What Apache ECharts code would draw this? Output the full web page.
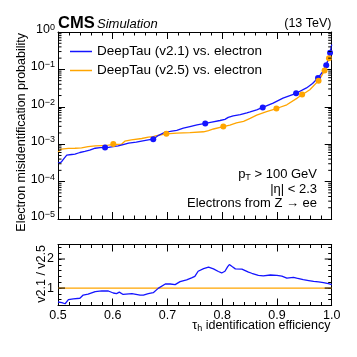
<!DOCTYPE html>
<html><head><meta charset="utf-8">
<script src="https://cdn.jsdelivr.net/npm/echarts@6/dist/echarts.min.js"></script>
<style>html,body{margin:0;padding:0;background:#fff}#c{width:357px;height:357px}</style>
</head><body><div id="c"></div>
<script>
// ---- data ----
const effV21 = [0.500,0.506,0.509,0.516,0.525,0.531,0.540,0.549,0.558,0.568,0.577,0.592,0.601,0.610,0.619,0.629,0.643,0.655,0.665,0.674,0.683,0.696,0.705,0.717,0.729,0.741,0.754,0.769,0.781,0.796,0.805,0.811,0.820,0.833,0.845,0.851,0.863,0.874,0.893,0.911,0.935,0.954,0.965,0.975,0.983,0.990,0.995,0.997,1.000];
const misV21 = [3.1e-4,3.3e-4,3.8e-4,5.1e-4,5.3e-4,5.4e-4,6.0e-4,6.4e-4,6.9e-4,7.8e-4,8.1e-4,8.2e-4,8.6e-4,9.0e-4,9.8e-4,1.07e-3,1.13e-3,1.23e-3,1.31e-3,1.36e-3,1.7e-3,2.12e-3,2.2e-3,2.35e-3,2.69e-3,2.97e-3,3.3e-3,3.6e-3,3.9e-3,4.3e-3,4.6e-3,5.2e-3,5.7e-3,6.2e-3,6.9e-3,7.3e-3,8.3e-3,9.6e-3,1.26e-2,1.71e-2,2.3e-2,3.2e-2,4.2e-2,5.9e-2,8.5e-2,0.13,0.22,0.28,0.46];
const effV25 = [0.500,0.503,0.506,0.519,0.531,0.543,0.555,0.568,0.580,0.592,0.601,0.616,0.622,0.634,0.653,0.665,0.674,0.680,0.698,0.717,0.741,0.766,0.775,0.784,0.802,0.814,0.826,0.839,0.851,0.863,0.881,0.899,0.918,0.937,0.946,0.960,0.976,0.981,0.987,0.995,0.998,1.000];
const misV25 = [6.2e-4,6.8e-4,7.4e-4,7.7e-4,7.8e-4,8.0e-4,8.6e-4,9.0e-4,9.2e-4,9.4e-4,9.8e-4,1.0e-3,1.2e-3,1.31e-3,1.42e-3,1.55e-3,1.6e-3,1.7e-3,1.88e-3,1.98e-3,2.05e-3,2.15e-3,2.32e-3,2.55e-3,2.95e-3,3.24e-3,3.7e-3,4.1e-3,4.9e-3,6.0e-3,7.4e-3,9.0e-3,1.13e-2,1.71e-2,2.1e-2,2.85e-2,5.0e-2,6.5e-2,9.4e-2,0.2,0.28,0.33];
const wpEffV21 = [0.586,0.674,0.769,0.874,0.935,0.975,0.990,0.997];
const wpMisV21 = [8.1e-4,1.36e-3,3.6e-3,9.6e-3,2.3e-2,5.9e-2,0.13,0.28];
const wpEffV25 = [0.601,0.698,0.802,0.899,0.946,0.976,0.987,0.995];
const wpMisV25 = [1.02e-3,1.89e-3,2.97e-3,9.0e-3,2.14e-2,4.97e-2,9.4e-2,0.2];
const ratioEff = [0.500,0.507,0.513,0.519,0.528,0.540,0.546,0.555,0.568,0.580,0.592,0.601,0.607,0.612,0.619,0.635,0.650,0.656,0.665,0.674,0.683,0.696,0.705,0.714,0.723,0.735,0.744,0.750,0.756,0.766,0.775,0.784,0.793,0.799,0.805,0.810,0.813,0.818,0.824,0.836,0.848,0.854,0.866,0.875,0.888,0.900,0.909,0.918,0.930,0.936,0.948,0.958,0.967,0.976,0.985,0.994,1.000];
const ratioVal = [0.52,0.50,0.46,0.60,0.63,0.65,0.76,0.79,0.88,0.90,0.90,0.83,0.81,0.86,0.78,0.81,0.76,0.76,0.81,0.84,0.99,1.14,1.14,1.12,1.22,1.28,1.35,1.40,1.58,1.67,1.72,1.66,1.57,1.52,1.58,1.74,1.81,1.74,1.66,1.65,1.55,1.51,1.44,1.42,1.45,1.44,1.41,1.34,1.37,1.34,1.29,1.26,1.23,1.21,1.19,1.15,1.12];
const refEff = [0.5, 1.0];
const refVal = [1, 1];
const seriesNames = ['DeepTau (v2.1) vs. electron', 'DeepTau (v2.5) vs. electron'];
const effMin = 0.5, effMax = 1.0;
const misMin = 1e-5, misMax = 1;
const ratioMin = 0.4, ratioMax = 2.5;
const logMinorTicks = [];
for (let d = -5; d < 0; d++) for (let k = 2; k <= 9; k++) logMinorTicks.push(k * Math.pow(10, d));
const ratioMajorTicks = [1, 2];
const zip = (a, b) => a.map((v, i) => [v, b[i]]);

// ---- chart ----
const FONT = 'Liberation Sans';
const BLUE = '#1414ff', ORANGE = '#ffa500';
const chart = echarts.init(document.getElementById('c'), null, {renderer: 'canvas'});

function xAx(grid, pos, labels) {
  return {
    gridIndex: grid, type: 'value', position: pos, min: effMin, max: effMax, interval: 0.1,
    axisLine: {show: true, onZero: false, lineStyle: {color: '#000', width: 1}},
    axisTick: {show: true, inside: true, length: 7, lineStyle: {color: '#000'}},
    minorTick: {show: true, splitNumber: 5, length: 3.5, lineStyle: {color: '#000'}},
    splitLine: {show: false},
    axisLabel: {show: labels, margin: 4, fontSize: 12.5, fontFamily: FONT, color: '#000',
      formatter: v => v.toFixed(1)}
  };
}
function ratioY(pos, labels) {
  return {
    gridIndex: 1, type: 'value', position: pos, min: ratioMin, max: ratioMax, interval: 0.2,
    axisLine: {show: true, onZero: false, lineStyle: {color: '#000', width: 1}},
    axisTick: {show: true, inside: true, length: 3.5, lineStyle: {color: '#000'}},
    splitLine: {show: false},
    axisLabel: {show: labels, margin: 4, fontSize: 12.5, fontFamily: FONT, color: '#000',
      showMinLabel: true, showMaxLabel: true,
      formatter: v => (ratioMajorTicks.some(t => Math.abs(t - v) < 1e-6) ? String(Math.round(v)) : '')}
  };
}
function logY(pos, labels) {
  return {
    gridIndex: 0, type: 'log', logBase: 10, position: pos, min: misMin, max: misMax,
    axisLine: {show: true, onZero: false, lineStyle: {color: '#000', width: 1}},
    axisTick: {show: true, inside: true, length: 7, lineStyle: {color: '#000'}},
    splitLine: {show: false},
    axisLabel: {show: labels, margin: 3, fontFamily: FONT, color: '#000', padding: [0, 0, 5, 0],
      formatter: v => {
        const e = Math.round(Math.log10(v));
        return '{b|10}{s|' + (e < 0 ? '\u2212' + (-e) : e) + '}';
      },
      rich: {
        b: {fontSize: 12.5, fontFamily: FONT, color: '#000', lineHeight: 13, verticalAlign: 'bottom', padding: [5, 0, 0, 0]},
        s: {fontSize: 9, fontFamily: FONT, color: '#000', lineHeight: 10, verticalAlign: 'top'}
      }}
  };
}

function tickRender(len) {
  return function (params, api) {
    const v = api.value(1);
    const l = api.coord([effMin, v]);
    const r = api.coord([effMax, v]);
    return {type: 'group', children: [
      {type: 'line', shape: {x1: l[0], y1: l[1], x2: l[0] + len, y2: l[1]}, style: {stroke: '#000', lineWidth: 1}},
      {type: 'line', shape: {x1: r[0] - len, y1: r[1], x2: r[0], y2: r[1]}, style: {stroke: '#000', lineWidth: 1}}
    ]};
  };
}

const option = {
  animation: false,
  backgroundColor: '#fff',
  grid: [
    {left: 58, right: 25.3, top: 32, height: 187, containLabel: false},
    {left: 58, right: 25.3, top: 244.5, height: 61, containLabel: false}
  ],
  xAxis: [xAx(0, 'bottom', false), xAx(0, 'top', false), xAx(1, 'bottom', true), xAx(1, 'top', false)],
  yAxis: [logY('left', true), logY('right', false), ratioY('left', true), ratioY('right', false)],
  legend: {
    data: seriesNames, orient: 'vertical', left: 65, top: 39, icon: 'rect', itemWidth: 22, itemHeight: 1.5, itemGap: 4,
    itemTextGap: 8, selectedMode: false,
    textStyle: {fontSize: 13.5, fontFamily: FONT, color: '#000', lineHeight: 15}
  },
  series: [
    {name: seriesNames[0], type: 'line', xAxisIndex: 0, yAxisIndex: 0, data: zip(effV21, misV21),
      symbol: 'none', lineStyle: {color: BLUE, width: 1.3}, itemStyle: {color: BLUE}, z: 4},
    {name: seriesNames[1], type: 'line', xAxisIndex: 0, yAxisIndex: 0, data: zip(effV25, misV25),
      symbol: 'none', lineStyle: {color: ORANGE, width: 1.3}, itemStyle: {color: ORANGE}, z: 3},
    {name: 'wp21', type: 'scatter', xAxisIndex: 0, yAxisIndex: 0, data: zip(wpEffV21, wpMisV21),
      symbolSize: 6, itemStyle: {color: BLUE, opacity: 1}, z: 5},
    {name: 'wp25', type: 'scatter', xAxisIndex: 0, yAxisIndex: 0, data: zip(wpEffV25, wpMisV25),
      symbolSize: 6, itemStyle: {color: ORANGE, opacity: 1}, z: 5},
    {name: 'ref', type: 'line', xAxisIndex: 2, yAxisIndex: 2, data: zip(refEff, refVal),
      symbol: 'none', lineStyle: {color: ORANGE, width: 1.3}, z: 3},
    {name: 'ratio', type: 'line', xAxisIndex: 2, yAxisIndex: 2, data: zip(ratioEff, ratioVal),
      symbol: 'none', lineStyle: {color: BLUE, width: 1.3}, z: 4},
    {name: 'logminor', type: 'custom', xAxisIndex: 0, yAxisIndex: 0,
      data: logMinorTicks.map(v => [effMin, v]), renderItem: tickRender(3.5), silent: true, z: 6},
    {name: 'ratiomajor', type: 'custom', xAxisIndex: 2, yAxisIndex: 2,
      data: ratioMajorTicks.map(v => [effMin, v]), renderItem: tickRender(7), silent: true, z: 6}
  ],
  graphic: [
    {type: 'text', left: 58, top: 15, style: {text: 'CMS', font: 'bold 16.5px ' + FONT, fill: '#000'}},
    {type: 'text', left: 97, top: 17.5, style: {text: 'Simulation', font: 'italic 13px ' + FONT, fill: '#000'}},
    {type: 'text', right: 25.5, top: 17.5, style: {text: '(13 TeV)', font: '12.5px ' + FONT, fill: '#000'}},
    {type: 'text', x: 22, y: 33, rotation: Math.PI / 2,
      style: {text: 'Electron misidentification probability', font: '12.5px ' + FONT, fill: '#000', align: 'right', verticalAlign: 'middle'}},
    {type: 'text', x: 42, y: 245, rotation: Math.PI / 2,
      style: {text: 'v2.1 / v2.5', font: '12.5px ' + FONT, fill: '#000', align: 'right', verticalAlign: 'middle'}},
    {type: 'text', x: 330.5, y: 326, style: {
      text: '{t|\u03c4}{h|h}{t| identification efficiency}', align: 'right', verticalAlign: 'middle',
      rich: {t: {fontSize: 12.5, fontFamily: FONT, fill: '#000', lineHeight: 14, verticalAlign: 'top', padding: [0, 0, 3, 0]},
             h: {fontSize: 9, fontFamily: FONT, fill: '#000', lineHeight: 10, verticalAlign: 'bottom'}}}},
    {type: 'text', x: 317, y: 175, style: {
      text: '{t|p}{h|T}{t| > 100 GeV}', align: 'right', verticalAlign: 'middle',
      rich: {t: {fontSize: 13, fontFamily: FONT, fill: '#000', lineHeight: 14, verticalAlign: 'top', padding: [0, 0, 3, 0]},
             h: {fontSize: 9, fontFamily: FONT, fill: '#000', lineHeight: 10, verticalAlign: 'bottom'}}}},
    {type: 'text', x: 317, y: 189, style: {text: '|\u03b7| < 2.3', font: '13px ' + FONT, fill: '#000', align: 'right', verticalAlign: 'middle'}},
    {type: 'text', x: 317, y: 203, style: {text: 'Electrons from Z \u2192 ee', font: '13px ' + FONT, fill: '#000', align: 'right', verticalAlign: 'middle'}}
  ]
};
chart.setOption(option);
</script>
</body></html>
